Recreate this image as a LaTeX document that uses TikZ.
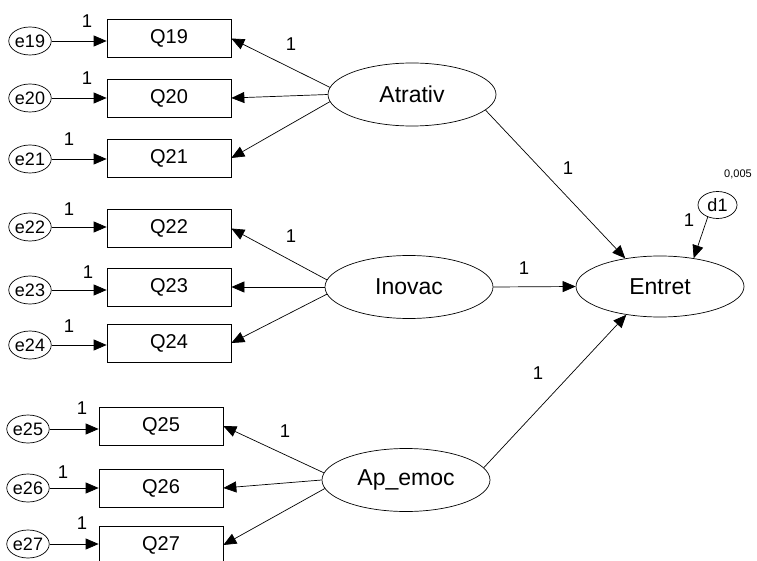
\documentclass[tikz,border=0pt]{standalone}
\usepackage{fontspec}
\setmainfont{Liberation Sans}
\usetikzlibrary{arrows.meta,shapes.geometric}
\tikzset{
  obs/.style={draw, line width=0.7pt, minimum width=124pt, minimum height=38pt, inner sep=0pt, font=\fontsize{20}{20}\selectfont},
  lat/.style={draw, ellipse, line width=0.7pt, minimum width=168pt, minimum height=63pt, inner sep=0pt, font=\fontsize{23}{23}\selectfont},
  err/.style={draw, ellipse, line width=0.7pt, minimum width=37pt, minimum height=28pt, inner sep=0pt, font=\fontsize{18}{18}\selectfont},
  lab/.style={inner sep=0pt, font=\fontsize{18.5}{18.5}\selectfont},
  small/.style={inner sep=0pt, font=\fontsize{11}{11}\selectfont},
  arr/.style={line width=0.7pt, -{Triangle[length=13pt,width=11pt]}}
}
\begin{document}
\begin{tikzpicture}[x=1pt,y=-1pt]
\useasboundingbox (0,0) rectangle (757,561);
\clip (0,0) rectangle (757,561);
% observed
\node[obs] (Q19) at (169,38.5) {Q19};
\node[obs] (Q20) at (169,98) {Q20};
\node[obs] (Q21) at (169,158) {Q21};
\node[obs] (Q22) at (169,228.5) {Q22};
\node[obs] (Q23) at (169,287) {Q23};
\node[obs] (Q24) at (169,343) {Q24};
\node[obs] (Q25) at (161,426) {Q25};
\node[obs] (Q26) at (161,488) {Q26};
\node[obs] (Q27) at (161,545) {Q27};
% errors
\node[err] (e19) at (30,41) {e19};
\node[err] (e20) at (30,98) {e20};
\node[err] (e21) at (30,159) {e21};
\node[err] (e22) at (30,227) {e22};
\node[err] (e23) at (30,290) {e23};
\node[err] (e24) at (30,345) {e24};
\node[err] (e25) at (28,429) {e25};
\node[err] (e26) at (28,488) {e26};
\node[err] (e27) at (28,544) {e27};
% latents
\node[lat] (Atrativ) at (412,94.5) {Atrativ};
\node[lat] (Inovac) at (409,287) {Inovac};
\node[lat] (Apemoc) at (406,480) {Ap\_emoc};
\node[lat, minimum height=61pt] (Entret) at (660,286.5) {Entret};
\node[err, minimum width=39pt, minimum height=27pt] (d1) at (717.5,205) {d1};
% error arrows
\foreach \e in {19,...,27}{
  \draw[arr] (e\e) -- (e\e -| Q\e.west);
}
% loadings
\draw[arr] (Atrativ.175) -- (Q19.east);
\draw[arr] (Atrativ.180) -- (Q20.east);
\draw[arr] (Atrativ.185) -- (Q21.east);
\draw[arr] (Inovac.175) -- (Q22.east);
\draw[arr] (Inovac.180) -- (Q23.east);
\draw[arr] (Inovac.185) -- (Q24.east);
\draw[arr] (Apemoc.175) -- (Q25.east);
\draw[arr] (Apemoc.180) -- (Q26.east);
\draw[arr] (Apemoc.186) -- (Q27.east);
% structural
\draw[arr] (Atrativ.-12) -- (Entret.141);
\draw[arr] (Inovac.east) -- (Entret.west);
\draw[arr] (Apemoc.9) -- (Entret.-140);
\draw[arr] (d1.-129) -- (Entret.40);
% labels
\node[lab] (l19) at (87,21) {1};
\node[lab] (l20) at (87,78) {1};
\node[lab] (l21) at (69,139) {1};
\node[lab] (l22) at (69,209) {1};
\node[lab] (l23) at (88,272) {1};
\node[lab] (l24) at (69,326) {1};
\node[lab] (l25) at (82,408) {1};
\node[lab] (l26) at (63,472) {1};
\node[lab] (l27) at (82,523) {1};
\node[lab] (la) at (291,44) {1};
\node[lab] (li) at (291,236) {1};
\node[lab] (lp) at (285,431) {1};
\node[lab] (lae) at (568,168) {1};
\node[lab] (lie) at (524,268) {1};
\node[lab] (lpe) at (538,373) {1};
\node[lab] (ld) at (689,220) {1};
\node[small] (var) at (738,174) {0,005};
\end{tikzpicture}
\end{document}
